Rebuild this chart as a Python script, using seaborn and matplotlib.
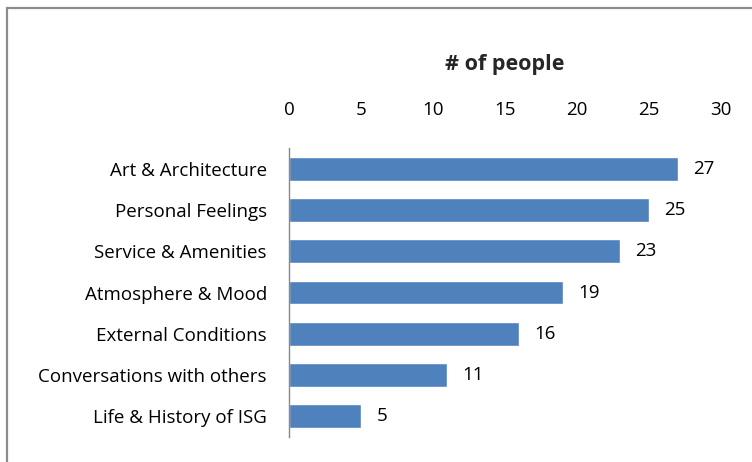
import matplotlib
matplotlib.use("Agg")
from matplotlib import pyplot as plt
from matplotlib.patches import Rectangle
import seaborn as sns
import pandas as pd

# data
categories = ["Art & Architecture", "Personal Feelings", "Service & Amenities",
              "Atmosphere & Mood", "External Conditions",
              "Conversations with others", "Life & History of ISG"]
people = [27, 25, 23, 19, 16, 11, 5]
x_ticks = [0, 5, 10, 15, 20, 25, 30]

df = pd.DataFrame({"category": categories, "people": people})

sns.set_style("white")
plt.rcParams["font.family"] = ["Open Sans", "DejaVu Sans"]

fig = plt.figure(figsize=(7.52, 4.62), dpi=100)
ax = fig.add_axes([0.3843, 0.0541, 0.5745, 0.6255])

sns.barplot(data=df, x="people", y="category", orient="h", color="#4F81BD",
            saturation=1, width=0.58, ax=ax)
ax.bar_label(ax.containers[0], padding=11, fontsize=13.5, color="black")

ax.set_xlim(0, 30)
ax.set_ylim(6.5, -0.5)
ax.set_xticks(x_ticks)
ax.xaxis.tick_top()
ax.xaxis.set_label_position("top")
ax.set_xlabel("# of people", fontsize=15.5, fontweight="bold", labelpad=22)
ax.set_ylabel("")
ax.tick_params(axis="x", length=0, pad=21, labelsize=13.5, labelcolor="black")
ax.tick_params(axis="y", length=0, pad=16, labelsize=13.5, labelcolor="black")

for s in ["top", "right", "bottom"]:
    ax.spines[s].set_visible(False)
ax.spines["left"].set_color("#888888")
ax.spines["left"].set_linewidth(1.0)

# outer chart frame (cut off at right and bottom as in the reference)
fig.patches.append(Rectangle((7 / 752, -0.1), 1.2, 1 - 8 / 462 + 0.1,
                             transform=fig.transFigure, fill=False,
                             edgecolor="#8c8c8c", linewidth=1.6))

fig.savefig("out.png", dpi=100)
